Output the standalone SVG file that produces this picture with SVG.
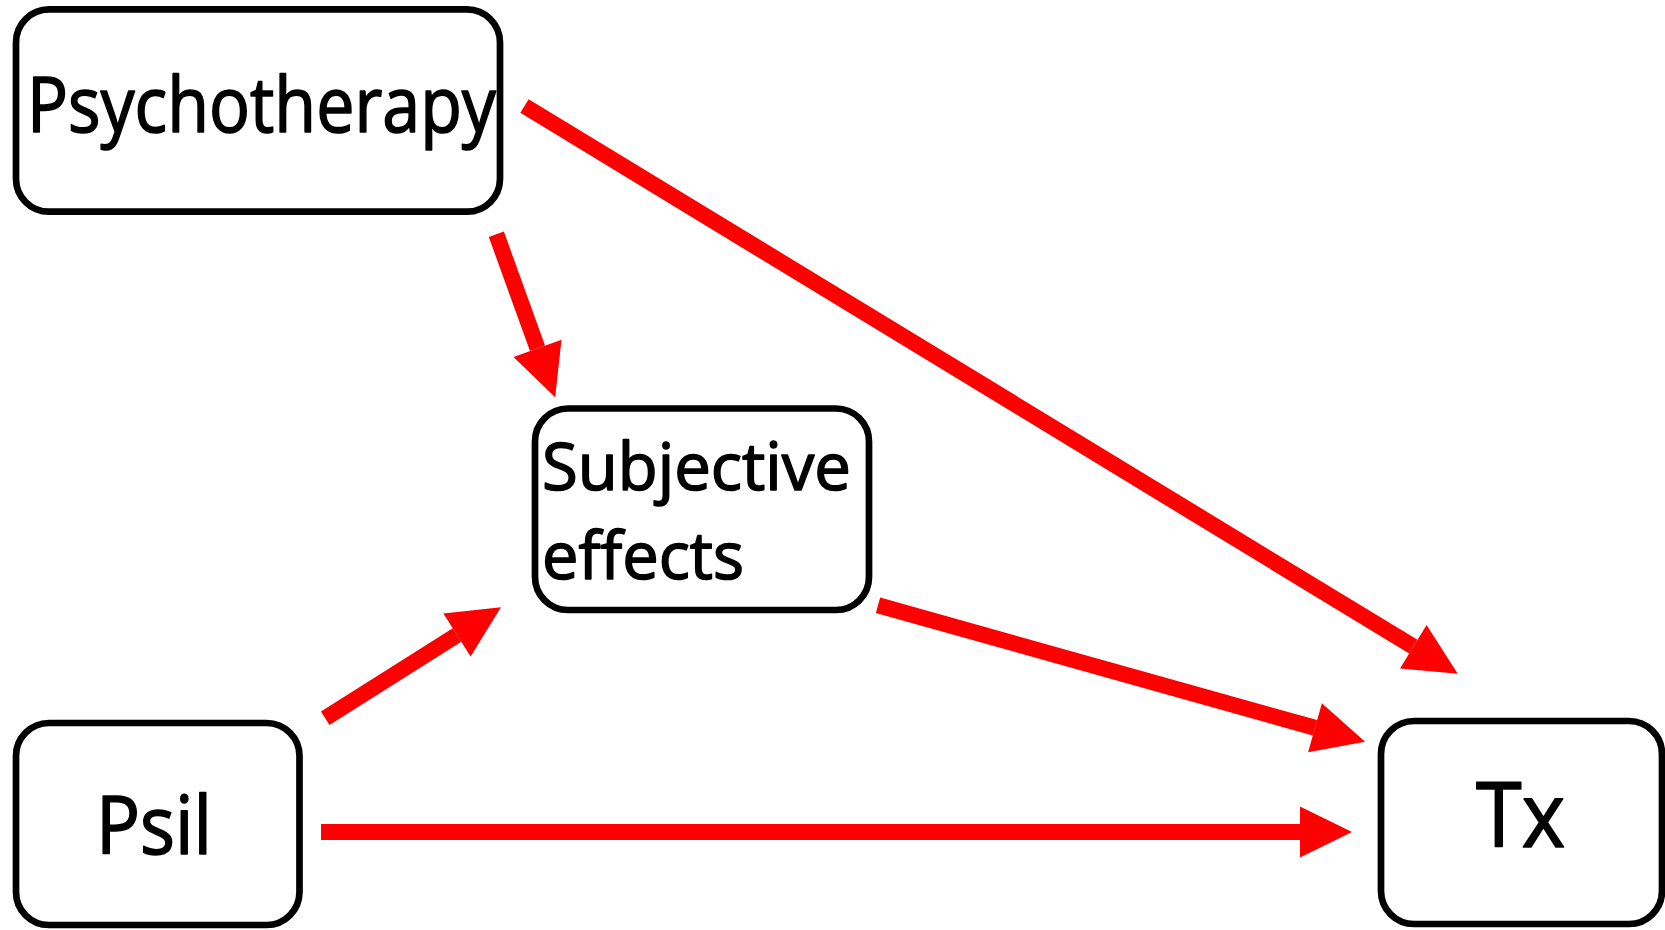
<svg xmlns="http://www.w3.org/2000/svg" width="1665" height="930" viewBox="0 0 1665 930">
  <style>
    .box { fill: #ffffff; stroke: #000000; stroke-width: 6.7; }
    .label { font-family: "Open Sans", "Noto Sans", "Liberation Sans", sans-serif; fill: #000000; stroke: #000000; stroke-width: 1.6; stroke-linejoin: round; }
    .edge { stroke: #ff0000; stroke-width: 16; fill: none; marker-end: url(#head); }
  </style>
  <defs>
    <!-- arrowhead: base sits at the line end, tip 52px further on -->
    <marker id="head" markerUnits="userSpaceOnUse" orient="auto" markerWidth="54" markerHeight="54" refX="0" refY="25.5" viewBox="0 0 54 51" overflow="visible">
      <path d="M0,0 L52,25.5 L0,51 Z" fill="#ff0000"/>
    </marker>
  </defs>

  <rect width="1665" height="930" fill="#ffffff"/>

  <g id="connectors">
    <!-- Psychotherapy -> Subjective effects -->
    <line class="edge" x1="496.3" y1="234.2" x2="537.5" y2="348.3"/>
    <!-- Psychotherapy -> Tx -->
    <line class="edge" x1="524.5" y1="106" x2="1413.3" y2="646.7"/>
    <!-- Psil -> Subjective effects -->
    <line class="edge" x1="325.2" y1="718.3" x2="457" y2="635"/>
    <!-- Subjective effects -> Tx -->
    <line class="edge" x1="878" y1="605.3" x2="1315" y2="727.8"/>
    <!-- Psil -> Tx -->
    <line class="edge" x1="321" y1="832" x2="1300" y2="832"/>
  </g>

  <g id="psychotherapy">
    <rect class="box" x="16" y="9.4" width="484" height="202.3" rx="33"/>
    <text class="label" x="27" y="131.5" font-size="76" textLength="469" lengthAdjust="spacingAndGlyphs">Psychotherapy</text>
  </g>

  <g id="subjective-effects">
    <rect class="box" x="535" y="408.5" width="334" height="201.5" rx="33"/>
    <text class="label" x="542" y="490" font-size="66" textLength="309" lengthAdjust="spacingAndGlyphs">Subjective</text>
    <text class="label" x="542" y="579" font-size="66" textLength="202" lengthAdjust="spacingAndGlyphs">effects</text>
  </g>

  <g id="psil">
    <rect class="box" x="16" y="723" width="283.5" height="202" rx="33"/>
    <text class="label" x="96" y="854" font-size="80" textLength="116" lengthAdjust="spacingAndGlyphs">Psil</text>
  </g>

  <g id="tx">
    <rect class="box" x="1381" y="721" width="281" height="203" rx="33"/>
    <text class="label" x="1476" y="847" font-size="90" textLength="89" lengthAdjust="spacingAndGlyphs">Tx</text>
  </g>
</svg>
